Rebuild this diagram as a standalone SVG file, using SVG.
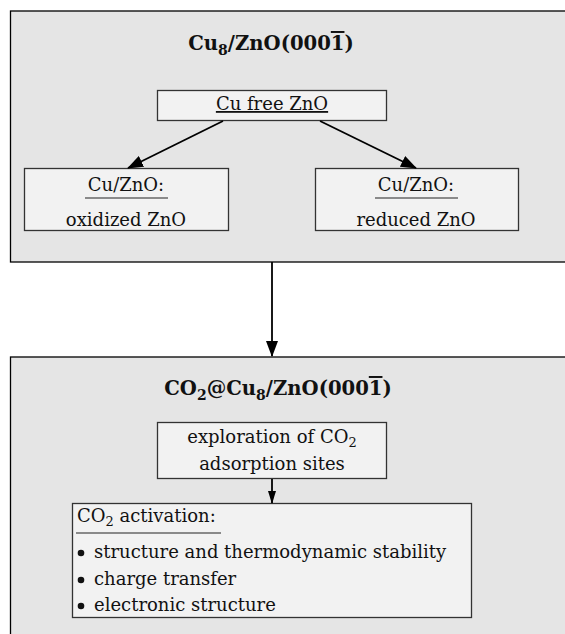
<svg xmlns="http://www.w3.org/2000/svg" width="565" height="634" viewBox="0 0 565 634">
<style>
.outer{fill:#e5e5e5;stroke:#000;stroke-width:1.3}
.inner{fill:#f2f2f2;stroke:#333;stroke-width:1.3}
text{font-family:"DejaVu Serif","Liberation Serif",serif;font-size:18px;fill:#111}
.title{font-weight:bold;font-size:19.6px}
.mid{text-anchor:middle}
.conn{stroke:#000;stroke-width:1.8;fill:none}
.rule{stroke:#222;stroke-width:1}
</style>
<defs>
<marker id="ah" markerUnits="userSpaceOnUse" markerWidth="16" markerHeight="12" refX="15" refY="6" orient="auto">
<path d="M0,0 L16,6 L0,12 z" fill="#000"/>
</marker>
<marker id="ahs" markerUnits="userSpaceOnUse" markerWidth="13" markerHeight="8" refX="12" refY="4" orient="auto">
<path d="M0,0 L13,4 L0,8 z" fill="#000"/>
</marker>
</defs>

<g id="panel-top">
<rect class="outer" x="10.5" y="11" width="570" height="251"/>
<text class="title mid" x="271" y="50">Cu<tspan dy="5" font-size="14">8</tspan><tspan dy="-5">/ZnO(000</tspan><tspan style="text-decoration:overline">1</tspan>)</text>
</g>

<g id="node-cufree">
<rect class="inner" x="157.5" y="90.5" width="229" height="30"/>
<text class="mid" x="272" y="110" style="text-decoration:underline">Cu free ZnO</text>
</g>

<g id="node-oxidized">
<rect class="inner" x="24.5" y="168.5" width="204" height="62"/>
<text class="mid" x="126" y="191">Cu/ZnO:</text>
<line class="rule" x1="85" y1="198" x2="168" y2="198"/>
<text class="mid" x="126" y="226">oxidized ZnO</text>
</g>

<g id="node-reduced">
<rect class="inner" x="315.5" y="168.5" width="203" height="62"/>
<text class="mid" x="416" y="191">Cu/ZnO:</text>
<line class="rule" x1="375" y1="198" x2="458" y2="198"/>
<text class="mid" x="416" y="226">reduced ZnO</text>
</g>

<g id="panel-bottom">
<rect class="outer" x="10.5" y="357" width="570" height="300"/>
<text class="title mid" x="278" y="395">CO<tspan dy="5" font-size="14">2</tspan><tspan dy="-5">@Cu</tspan><tspan dy="5" font-size="14">8</tspan><tspan dy="-5">/ZnO(000</tspan><tspan style="text-decoration:overline">1</tspan>)</text>
</g>

<g id="node-exploration">
<rect class="inner" x="157.5" y="422.5" width="229" height="56"/>
<text class="mid" x="272" y="443">exploration of CO<tspan dy="4" font-size="13">2</tspan></text>
<text class="mid" x="272" y="470">adsorption sites</text>
</g>

<g id="node-activation">
<rect class="inner" x="72.5" y="503.5" width="399" height="114"/>
<text x="77" y="522">CO<tspan dy="4" font-size="13">2</tspan><tspan dy="-4"> activation:</tspan></text>
<line class="rule" x1="76" y1="533" x2="221" y2="533"/>
<circle cx="81" cy="553" r="3.3" fill="#111"/>
<text x="94" y="558">structure and thermodynamic stability</text>
<circle cx="81" cy="580" r="3.3" fill="#111"/>
<text x="94" y="585">charge transfer</text>
<circle cx="81" cy="606" r="3.3" fill="#111"/>
<text x="94" y="611">electronic structure</text>
</g>

<g id="connectors">
<line class="conn" x1="223" y1="121" x2="128" y2="168" marker-end="url(#ah)"/>
<line class="conn" x1="320" y1="121" x2="416" y2="168" marker-end="url(#ah)"/>
<line class="conn" x1="272" y1="262" x2="272" y2="356" marker-end="url(#ah)"/>
<line class="conn" x1="272" y1="479" x2="272" y2="503" marker-end="url(#ahs)" stroke-width="1.5"/>
</g>
</svg>
